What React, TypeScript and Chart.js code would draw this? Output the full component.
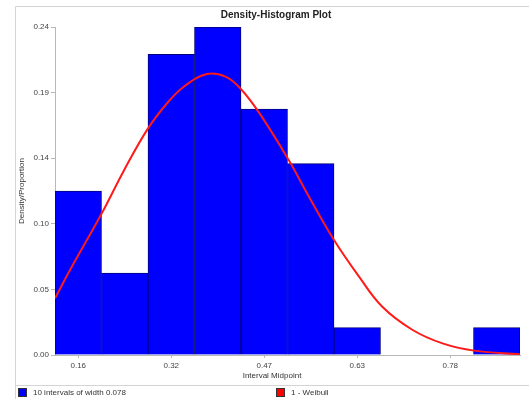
import React, { useEffect, useRef } from "react";
import { Chart, registerables } from "chart.js";

Chart.register(...registerables);

// Histogram bins (interval midpoints) and proportions
const binMidpoints = [0.16, 0.238, 0.316, 0.394, 0.472, 0.55, 0.628, 0.706, 0.784, 0.862];
const binProportions = [0.12, 0.06, 0.22, 0.24, 0.18, 0.14, 0.02, 0, 0, 0.02];
const binWidth = 0.078;

// Fitted Weibull curve (scaled density)
const weibullX = [0.121, 0.146, 0.1995, 0.236, 0.276, 0.309, 0.337, 0.376, 0.407, 0.432, 0.463, 0.513, 0.547, 0.589, 0.631, 0.67, 0.721, 0.771, 0.824, 0.901];
const weibullY = [0.0415, 0.062, 0.1037, 0.1345, 0.1651, 0.1842, 0.1963, 0.2056, 0.2037, 0.195, 0.1775, 0.1427, 0.1158, 0.0841, 0.0573, 0.0353, 0.0183, 0.0085, 0.0032, 0.0005];

// Tick values
const xTickValues = [0.16, 0.316, 0.472, 0.628, 0.784];
const yTickValues = [0, 0.048, 0.096, 0.144, 0.192, 0.24];

const titleText = "Density-Histogram Plot";
const xTitle = "Interval Midpoint";
const yTitle = "Density/Proportion";
const legendLabels = ["10 intervals of width 0.078", "1 - Weibull"];

const FONT = "'Liberation Sans', Arial, sans-serif";

const decorPlugin = {
  id: "decor",
  beforeDraw(chart: any) {
    const ctx = chart.ctx;
    ctx.save();
    ctx.fillStyle = "#ffffff";
    ctx.fillRect(0, 0, chart.width, chart.height);
    ctx.restore();
  },
  afterDraw(chart: any) {
    const ctx = chart.ctx;
    const area = chart.chartArea;
    ctx.save();
    // outer frame
    ctx.strokeStyle = "#d4d4d4";
    ctx.lineWidth = 1;
    ctx.beginPath();
    ctx.moveTo(15.5, chart.height);
    ctx.lineTo(15.5, 6.5);
    ctx.lineTo(chart.width, 6.5);
    ctx.moveTo(15.5, 385.5);
    ctx.lineTo(chart.width, 385.5);
    ctx.stroke();

    // title
    ctx.fillStyle = "#222";
    ctx.font = `bold 10px ${FONT}`;
    ctx.textAlign = "center";
    ctx.textBaseline = "middle";
    ctx.fillText(titleText, 276, 15);

    // axis titles
    ctx.font = `8px ${FONT}`;
    ctx.fillStyle = "#333";
    ctx.fillText(xTitle, 272, 376);
    ctx.save();
    ctx.translate(22, (area.top + area.bottom) / 2);
    ctx.rotate(-Math.PI / 2);
    ctx.fillText(yTitle, 0, 0);
    ctx.restore();

    // legend
    const items = [
      { x: 18, color: "#0000ff", label: legendLabels[0] },
      { x: 276, color: "#ff0000", label: legendLabels[1] },
    ];
    ctx.textAlign = "left";
    for (const it of items) {
      ctx.fillStyle = it.color;
      ctx.fillRect(it.x, 388, 9, 9);
      ctx.strokeStyle = "#333";
      ctx.strokeRect(it.x + 0.5, 388.5, 8, 8);
      ctx.fillStyle = "#333";
      ctx.fillText(it.label, it.x + 15, 392.5);
    }
    ctx.restore();
  },
};

export default function App() {
  const canvasRef = useRef<HTMLCanvasElement | null>(null);

  useEffect(() => {
    if (!canvasRef.current) return;
    const chart = new Chart(canvasRef.current, {
      type: "bar",
      data: {
        datasets: [
          {
            type: "line",
            label: legendLabels[1],
            data: weibullX.map((x, i) => ({ x, y: weibullY[i] })),
            borderColor: "#ff1a1a",
            borderWidth: 2,
            pointRadius: 0,
            tension: 0.4,
            fill: false,
            order: 0,
          } as any,
          {
            type: "bar",
            label: legendLabels[0],
            data: binMidpoints.map((x, i) => ({ x, y: binProportions[i] })),
            backgroundColor: "#0000ff",
            borderColor: "#00007a",
            borderWidth: 1,
            barPercentage: 1,
            categoryPercentage: 1,
            order: 1,
          } as any,
        ],
      },
      plugins: [decorPlugin],
      options: {
        responsive: false,
        animation: false,
        devicePixelRatio: 1,
        layout: { padding: { left: 0, right: 9, top: 27, bottom: 0 } },
        plugins: {
          legend: { display: false },
          title: { display: false },
          tooltip: { enabled: false },
        },
        scales: {
          x: {
            type: "linear",
            offset: false,
            min: binMidpoints[0] - binWidth / 2,
            max: binMidpoints[binMidpoints.length - 1] + binWidth / 2,
            grid: {
              display: true,
              offset: false,
              drawOnChartArea: false,
              drawTicks: true,
              tickLength: 3,
              color: "#b8b8b8",
            },
            border: { display: true, color: "#b8b8b8", width: 1 },
            ticks: {
              autoSkip: false,
              maxRotation: 0,
              padding: 3,
              color: "#444",
              font: { size: 8, family: FONT },
              callback: (v: any) => Number(v).toFixed(2),
            },
            afterBuildTicks: (scale: any) => {
              scale.ticks = xTickValues.map((v) => ({ value: v }));
            },
            afterFit: (scale: any) => {
              scale.height = 44;
            },
          },
          y: {
            type: "linear",
            min: 0,
            max: 0.24,
            grid: {
              display: true,
              drawOnChartArea: false,
              drawTicks: true,
              tickLength: 4,
              color: "#b8b8b8",
            },
            border: { display: true, color: "#b8b8b8", width: 1 },
            ticks: {
              padding: 2,
              color: "#444",
              font: { size: 8, family: FONT },
              callback: (v: any) => Number(v).toFixed(2),
            },
            afterBuildTicks: (scale: any) => {
              scale.ticks = yTickValues.map((v) => ({ value: v }));
            },
            afterFit: (scale: any) => {
              scale.width = 55;
            },
          },
        },
      } as any,
    });
    return () => chart.destroy();
  }, []);

  return (
    <div style={{ position: "absolute", left: 0, top: 0, width: 529, height: 399 }}>
      <canvas ref={canvasRef} width={529} height={399} style={{ display: "block" }} />
    </div>
  );
}
